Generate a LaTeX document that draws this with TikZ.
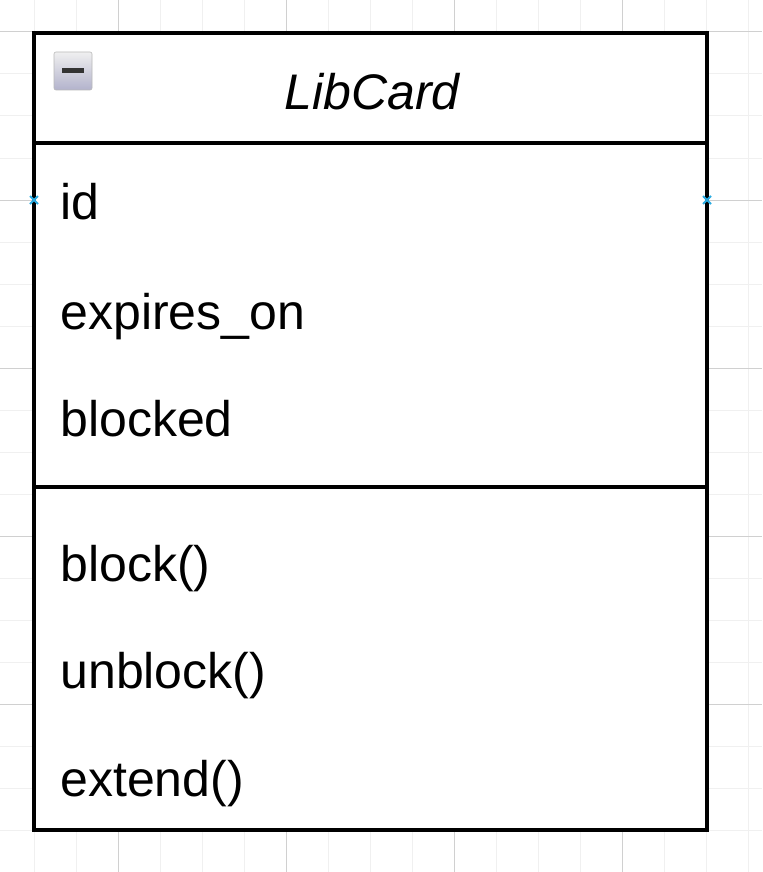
\documentclass[tikz,border=0pt]{standalone}
\usepackage{fontspec}
\setmainfont{Liberation Sans}
\definecolor{gridmajor}{HTML}{D0D0D0}
\definecolor{gridminor}{HTML}{F0F0F0}
\definecolor{portblue}{HTML}{29ABE2}
\begin{document}
\begin{tikzpicture}[x=0.5pt,y=-0.5pt,
    member/.style={anchor=base west,inner sep=0pt,font=\fontsize{25}{30}\selectfont},
    classname/.style={anchor=base,inner sep=0pt,font=\fontsize{25}{30}\selectfont\itshape},
    outline/.style={line width=1.75pt},
    port/.style={portblue,line width=1pt}]
        \useasboundingbox (0,0) rectangle (762,872);
        \fill[white] (0,0) rectangle (762,872);

        % Background grid
        \foreach \gx in {34,76,...,748} \draw[gridminor,line width=0.5pt] (\gx,0) -- (\gx,872);
        \foreach \gy in {32,74,...,872} \draw[gridminor,line width=0.5pt] (0,\gy) -- (762,\gy);
        \foreach \gx in {118,286,454,622} \draw[gridmajor,line width=0.5pt] (\gx,0) -- (\gx,872);
        \foreach \gy in {32,200,368,536,704} \draw[gridmajor,line width=0.5pt] (0,\gy) -- (762,\gy);

        % Class box
        \draw[outline,fill=white] (34,33) rectangle (707,830);
        \draw[outline] (34,143) -- (707,143);
        \draw[outline] (34,487) -- (707,487);

        % Collapse icon
        \shade[top color=gray!12,bottom color=blue!20!gray!50,draw=gray!55,line width=0.3pt,rounded corners=1pt] (54,52) rectangle (92,90);
        \fill[black!80] (62,68.5) rectangle (84,73.5);

        % Header
        \node[classname] (libcard) at (372,110) {LibCard};

        % Attributes
        \node[member] (id) at (60,219) {id};
        \node[member] (expireson) at (60,329) {expires\_on};
        \node[member] (blocked) at (60,436) {blocked};

        % Methods
        \node[member] (block) at (60,581) {block()};
        \node[member] (unblock) at (60,688) {unblock()};
        \node[member] (extend) at (60,796) {extend()};

        % Ports
        \draw[port] (30,196) -- (38,204) (30,204) -- (38,196);
        \draw[port] (703,196) -- (711,204) (703,204) -- (711,196);
\end{tikzpicture}
\end{document}
